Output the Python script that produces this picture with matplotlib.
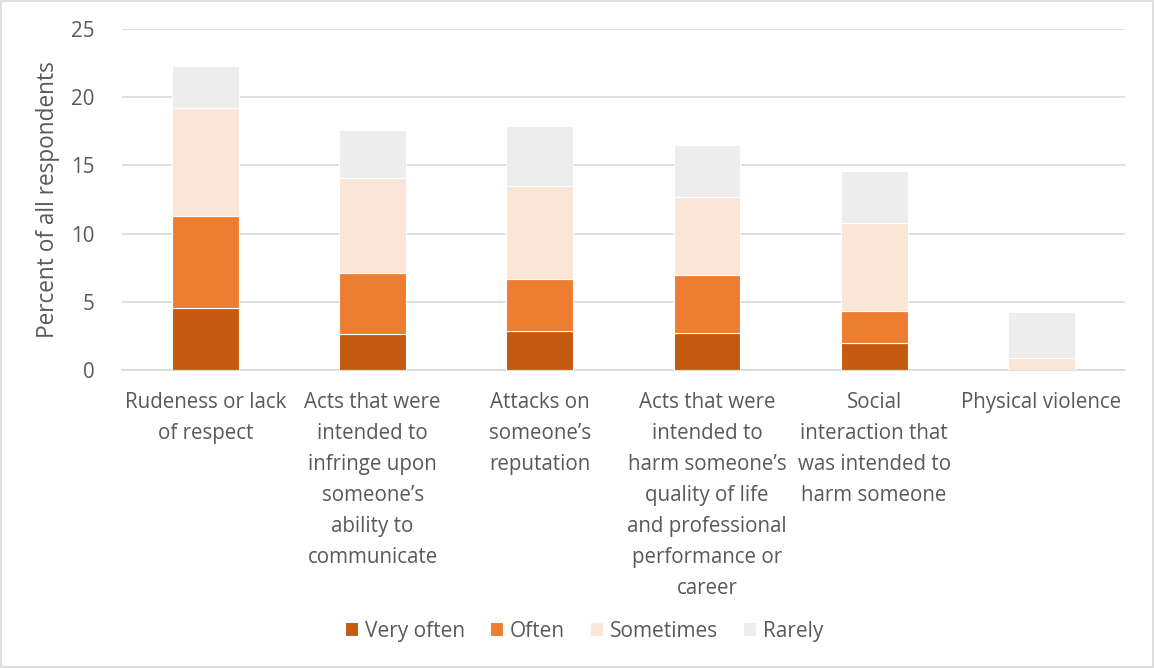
import numpy as np
import matplotlib.pyplot as plt

# categories and stacked series (percent of all respondents)
categories = [
    "Rudeness or lack\nof respect",
    "Acts that were\nintended to\ninfringe upon\nsomeone\u2019s\nability to\ncommunicate",
    "Attacks on\nsomeone\u2019s\nreputation",
    "Acts that were\nintended to\nharm someone\u2019s\nquality of life\nand professional\nperformance or\ncareer",
    "Social\ninteraction that\nwas intended to\nharm someone",
    "Physical violence",
]
very_often = [4.55, 2.65, 2.85, 2.75, 1.95, 0.0]
often = [6.7, 4.45, 3.8, 4.2, 2.4, 0.0]
sometimes = [7.95, 7.0, 6.85, 5.7, 6.4, 0.85]
rarely = [3.1, 3.5, 4.4, 3.8, 3.8, 3.4]

series = ["Very often", "Often", "Sometimes", "Rarely"]
colors = ["#C55A11", "#ED7D31", "#FBE5D6", "#EDEDED"]
yticks = [0, 5, 10, 15, 20, 25]

plt.rcParams['font.family'] = ['Open Sans', 'DejaVu Sans']
text_col = "#595959"

fig = plt.figure(figsize=(11.54, 6.68), dpi=100)
ax = fig.add_axes([0.1057, 0.446, 0.869, 0.511])

x = np.arange(len(categories))
bottom = np.zeros(len(categories))
for vals, name, col in zip([very_often, often, sometimes, rarely], series, colors):
    ax.bar(x, vals, width=0.4, bottom=bottom, color=col, label=name,
           edgecolor="white", linewidth=0.8, zorder=3)
    bottom += np.array(vals)

ax.set_xlim(-0.5, len(categories) - 0.5)
ax.set_ylim(0, 25)
ax.set_yticks(yticks)
ax.yaxis.grid(True, color="#D9D9D9", linewidth=1.2, zorder=0)
ax.set_axisbelow(True)
for s in ["top", "right", "left"]:
    ax.spines[s].set_visible(False)
ax.spines["bottom"].set_color("#D9D9D9")
ax.spines["bottom"].set_linewidth(1.2)
ax.tick_params(axis="both", length=0, colors=text_col, labelsize=14.8)
ax.tick_params(axis="y", pad=20)
ax.tick_params(axis="x", pad=16)
ax.set_xticks(x)
ax.set_xticklabels(categories, linespacing=1.62, va="top")
ax.set_ylabel("Percent of all respondents", color=text_col, fontsize=16.3, labelpad=8)

fig.legend(loc="center", bbox_to_anchor=(0.506, 0.055), ncol=4, frameon=False,
           fontsize=15, labelcolor=text_col, handlelength=0.65, handleheight=0.65,
           handletextpad=0.3, columnspacing=1.2)

# light border around the chart area
fig.patches.append(plt.Rectangle((0.001, 0.001), 0.998, 0.997, transform=fig.transFigure,
                                 fill=False, edgecolor="#D9D9D9", linewidth=1.2))

fig.savefig("out.png", dpi=100)
